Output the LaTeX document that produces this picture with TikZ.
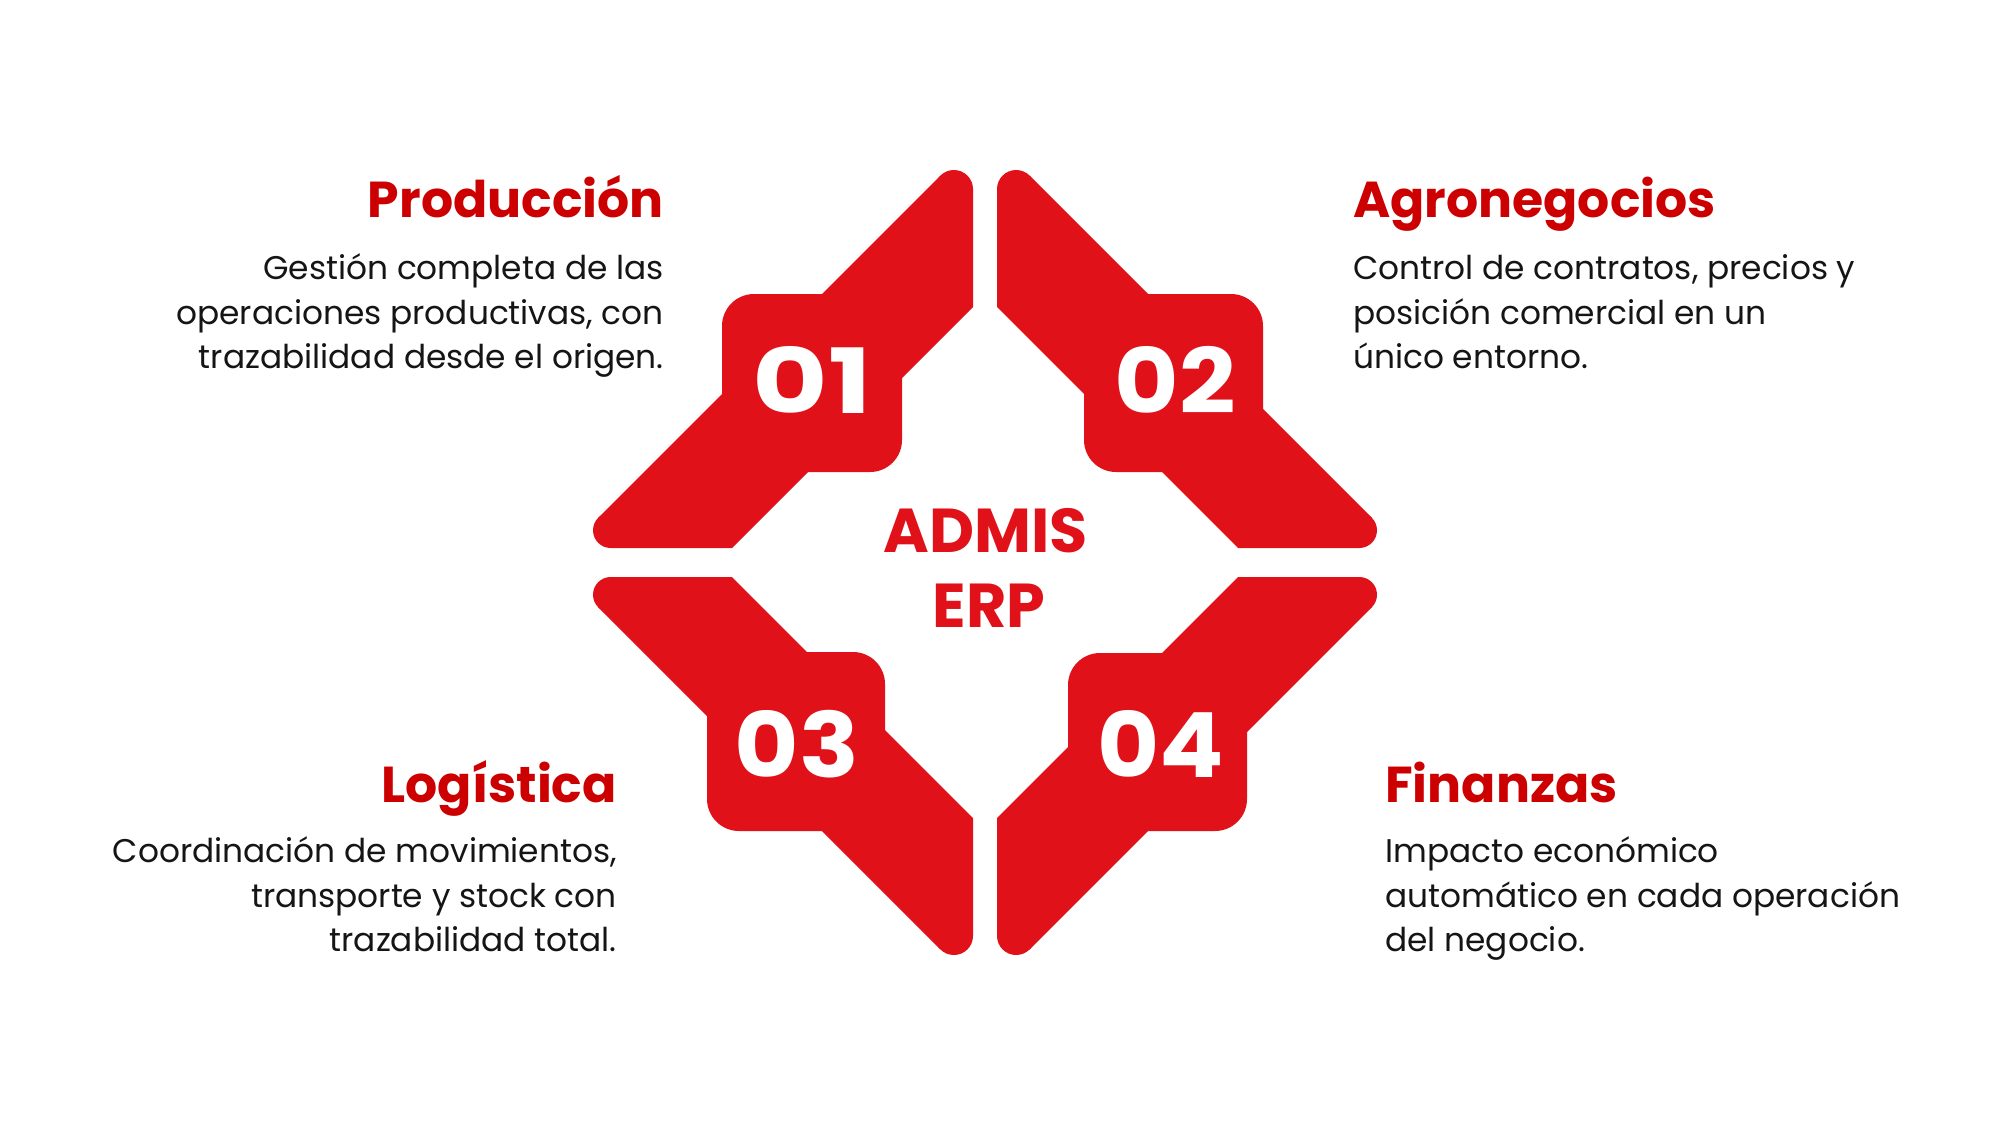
\documentclass[tikz,border=0pt]{standalone}
\usepackage{graphicx}
\usepackage{fontspec}
\setmainfont{Poppins}
\definecolor{erpred}{HTML}{E1111A}
\definecolor{ttlred}{HTML}{CC0000}
\definecolor{bodyblk}{HTML}{151515}
\newcommand{\widenum}[2]{\scalebox{#1}[1]{#2}}
\begin{document}
\begin{tikzpicture}[x=1pt,y=-1pt,
  ttl/.style={font=\fontsize{50.5}{58}\selectfont\bfseries, text=ttlred, inner sep=0pt},
  body/.style={font=\fontsize{32.8}{42}\selectfont, text=bodyblk, inner sep=0pt},
  num/.style={font=\fontsize{90}{100}\selectfont\bfseries, text=white, inner sep=0pt},
  core/.style={font=\fontsize{62}{70}\selectfont\bfseries, text=erpred, inner sep=0pt},
  boxfill/.style={fill=erpred, rounded corners=32pt},
  erpband/.pic={
    \fill[erpred] (940.4,175.6) -- (953.9,189.1) -- (973,189.1) -- (973,307)
      -- (732,548) -- (610.7,548) -- (610.7,530.3) -- (598.2,517.8) -- cycle;
    \fill[erpred] (953.9,189.1) circle[radius=19.1pt];
    \fill[erpred] (610.7,530.3) circle[radius=17.7pt];
  }
]
\fill[white] (0,0) rectangle (2000,1125);
\useasboundingbox (0,0) rectangle (2000,1125);

% bands
\pic at (0,0) {erpband};
\pic[xscale=-1] at (1970,0) {erpband};
\pic[yscale=-1] at (0,1125) {erpband};
\pic[xscale=-1,yscale=-1] at (1970,1125) {erpband};

% boxes
\path[boxfill] (722,294) rectangle (902,472);
\path[boxfill] (1084,294) rectangle (1263,472);
\path[boxfill] (707,652) rectangle (885,831);
\path[boxfill] (1068,653) rectangle (1247,831);

% numbers
\node[num, anchor=base] (n1) at (812,413) {\widenum{1.29}{01}};
\node[num, anchor=base] (n2) at (1175,413) {\widenum{1.10}{02}};
\node[num, anchor=base] (n3) at (797,777) {\widenum{1.10}{03}};
\node[num, anchor=base] (n4) at (1161,777) {\widenum{1.06}{04}};

% center
\node[core, anchor=base] (c1) at (985.5,552) {ADMIS};
\node[core, anchor=base] (c2) at (989,627) {ERP};

% top-left
\node[ttl, anchor=base east] (h1) at (664,217) {Producción};
\node[body, anchor=base east] (b1a) at (664,279) {Gestión completa de las};
\node[body, anchor=base east] (b1b) at (664,324) {operaciones productivas, con};
\node[body, anchor=base east] (b1c) at (664,368) {trazabilidad desde el origen.};

% top-right
\node[ttl, anchor=base west] (h2) at (1353,217) {Agronegocios};
\node[body, anchor=base west] (b2a) at (1353,279) {Control de contratos, precios y};
\node[body, anchor=base west] (b2b) at (1353,324) {posición comercial en un};
\node[body, anchor=base west] (b2c) at (1353,368) {único entorno.};

% bottom-left
\node[ttl, anchor=base east] (h3) at (617,802) {Logística};
\node[body, anchor=base east] (b3a) at (617,862) {Coordinación de movimientos,};
\node[body, anchor=base east] (b3b) at (617,907) {transporte y stock con};
\node[body, anchor=base east] (b3c) at (617,951) {trazabilidad total.};

% bottom-right
\node[ttl, anchor=base west] (h4) at (1385,802) {Finanzas};
\node[body, anchor=base west] (b4a) at (1385,862) {Impacto económico};
\node[body, anchor=base west] (b4b) at (1385,907) {automático en cada operación};
\node[body, anchor=base west] (b4c) at (1385,951) {del negocio.};
\end{tikzpicture}
\end{document}
